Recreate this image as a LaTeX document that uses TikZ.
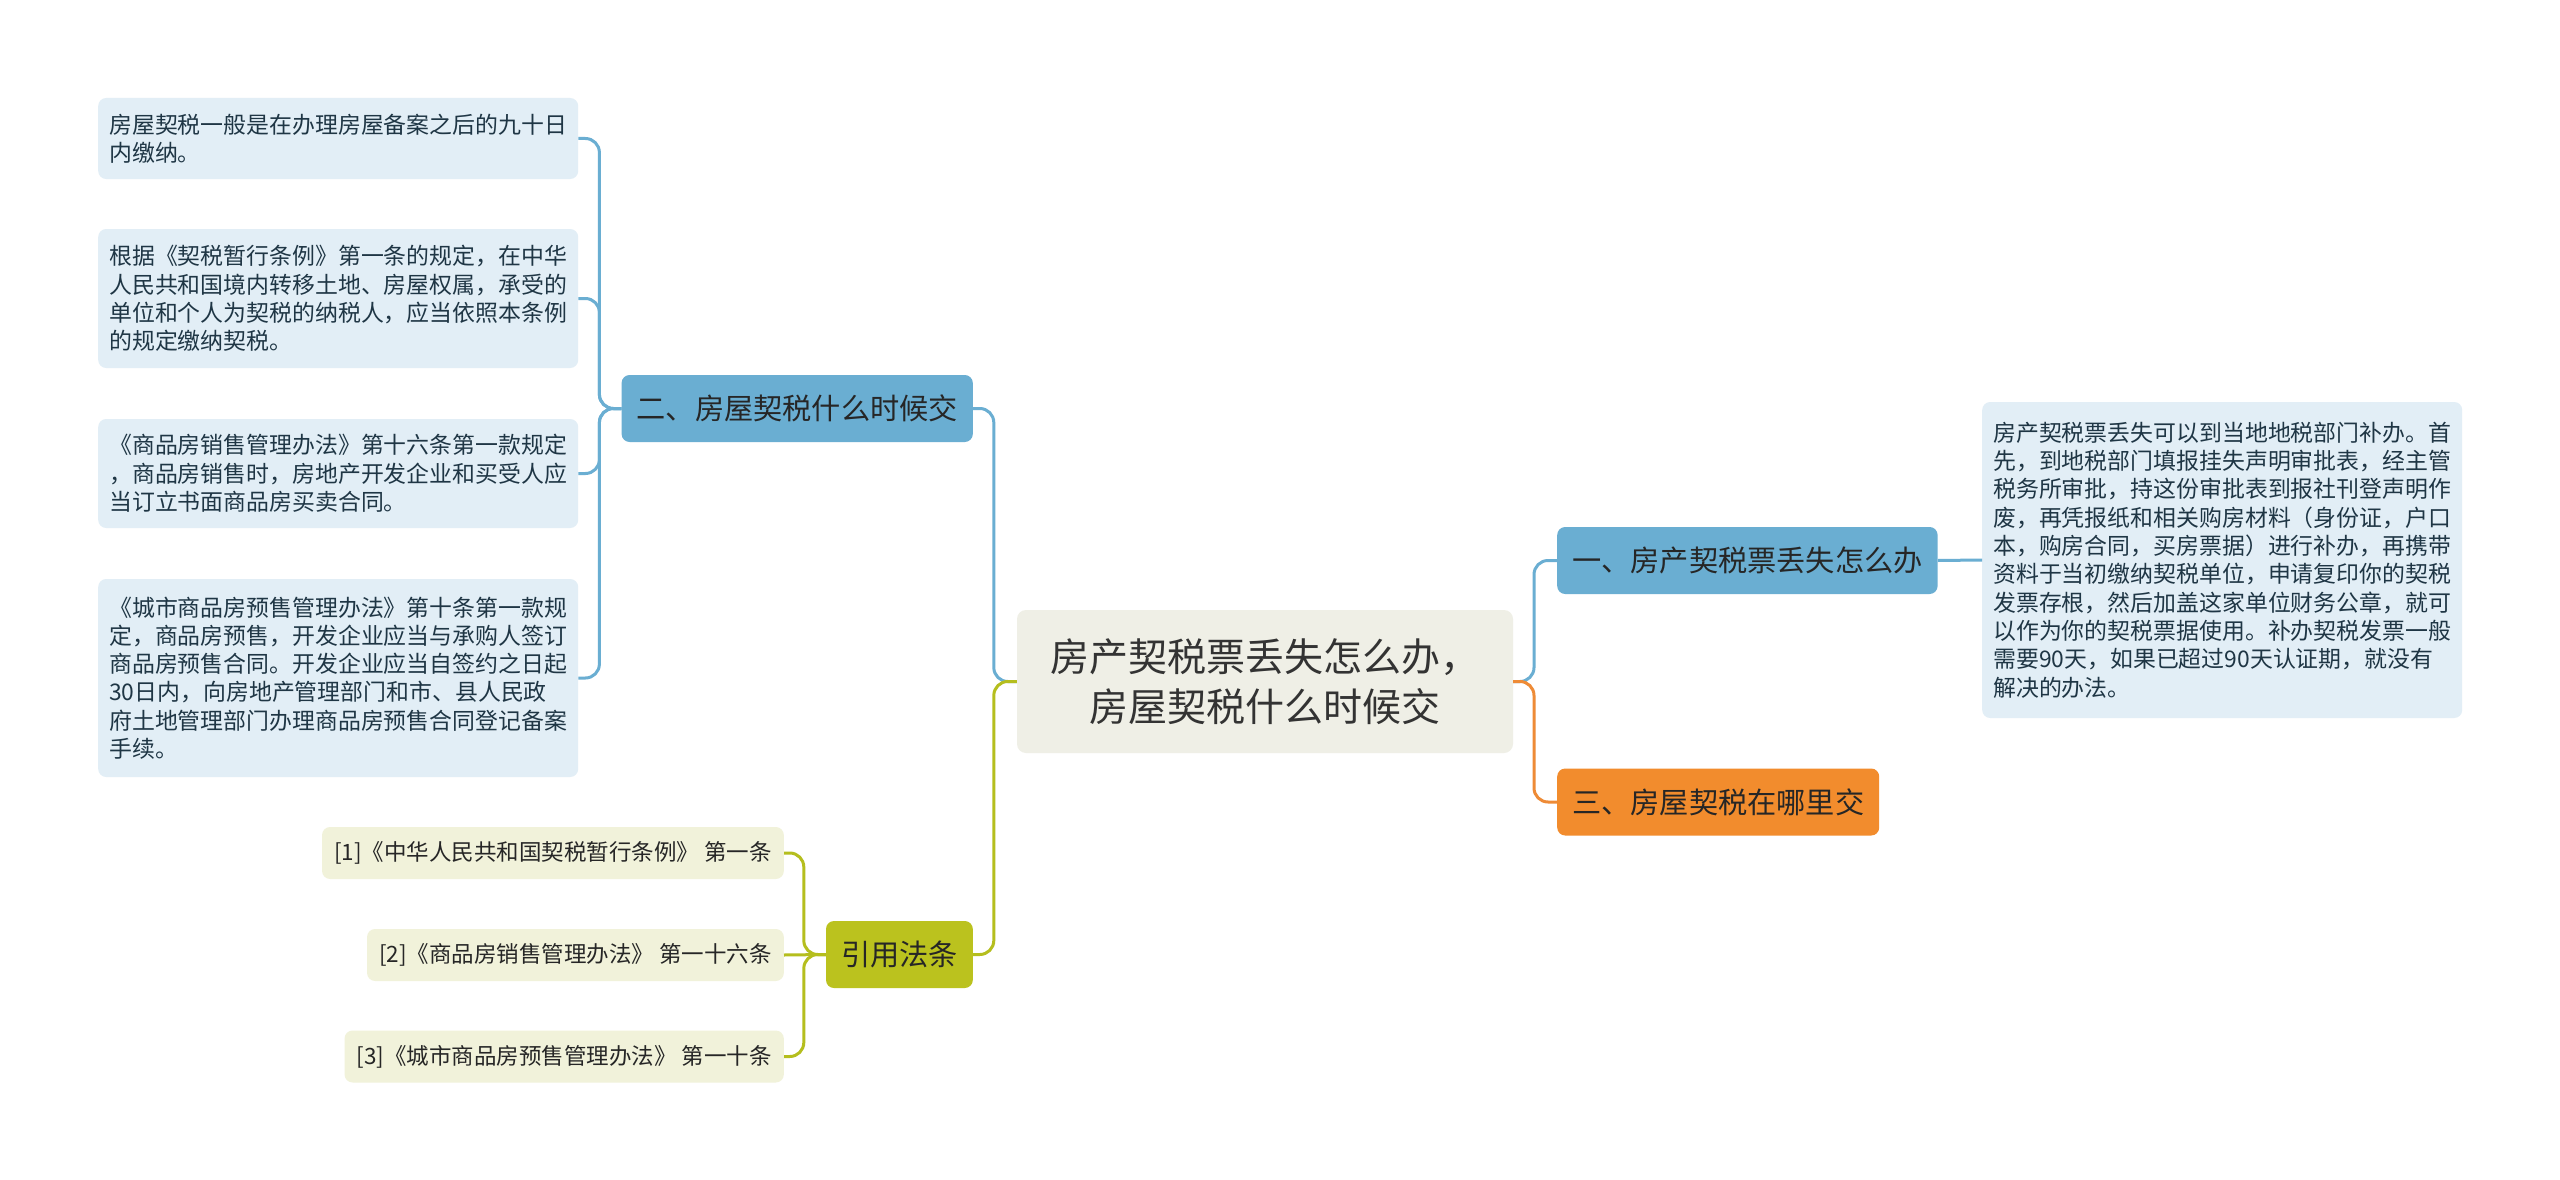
\documentclass[tikz,border=0pt]{standalone}
\usepackage{fontspec}
\newfontfamily\cjkfont{Noto Sans CJK SC}
\definecolor{topicfill}{HTML}{EFEFE6}
\definecolor{bluefill}{HTML}{6AAED2}
\definecolor{orangefill}{HTML}{F28C2D}
\definecolor{greenfill}{HTML}{BBC21E}
\definecolor{leaffill}{HTML}{E2EEF6}
\definecolor{leaftext}{HTML}{1F3645}
\definecolor{citefill}{HTML}{F1F2DA}
\definecolor{blueline}{HTML}{6AAED2}
\definecolor{greenline}{HTML}{B5BE1E}
\definecolor{orangeline}{HTML}{EE8B36}
\begin{document}
\begin{tikzpicture}[x=1pt, y=-1pt,
    topic/.style={rectangle, rounded corners=9pt, fill=topicfill, text=black!80,
      font=\cjkfont\fontsize{39}{50}\selectfont, align=center,
      minimum width=496pt, minimum height=143pt, inner sep=0pt},
    branch/.style={rectangle, rounded corners=8pt, text=black!85,
      font=\cjkfont\fontsize{29.2}{35}\selectfont,
      minimum height=67pt, inner xsep=15pt, inner ysep=0pt},
    leaf/.style={rectangle, rounded corners=8pt, fill=leaffill, text=leaftext,
      font=\cjkfont\fontsize{22.9}{28.3}\selectfont, align=left,
      text width=458pt, inner xsep=11pt, inner ysep=0pt, anchor=west},
    cite/.style={rectangle, rounded corners=8pt, fill=citefill, text=black!85,
      font=\cjkfont\fontsize{22.5}{27}\selectfont,
      minimum height=52pt, inner xsep=12pt, inner ysep=0pt, anchor=east},
    link/.style={line width=3pt, rounded corners=14pt}
  ]
    \fill[white] (0,0) rectangle (2560,1180);

    % 中心
    \node[topic] (root) at (1265, 681.5) {房产契税票丢失怎么办，\\房屋契税什么时候交};

    % 左侧分支
    \node[branch, fill=bluefill, anchor=east] (when) at (973, 408.5) {二、房屋契税什么时候交};
    \node[branch, fill=greenfill, anchor=east] (law) at (973, 954.5) {引用法条};

    \node[leaf, minimum height=81pt] (w1) at (98, 138.5)
      {房屋契税一般是在办理房屋备案之后的九十日\\内缴纳。};
    \node[leaf, minimum height=139pt] (w2) at (98, 298.5)
      {根据《契税暂行条例》第一条的规定，在中华\\人民共和国境内转移土地、房屋权属，承受的\\单位和个人为契税的纳税人，应当依照本条例\\的规定缴纳契税。};
    \node[leaf, minimum height=109pt] (w3) at (98, 473.5)
      {《商品房销售管理办法》第十六条第一款规定\\，商品房销售时，房地产开发企业和买受人应\\当订立书面商品房买卖合同。};
    \node[leaf, minimum height=198pt] (w4) at (98, 678)
      {《城市商品房预售管理办法》第十条第一款规\\定，商品房预售，开发企业应当与承购人签订\\商品房预售合同。开发企业应当自签约之日起\\30日内，向房地产管理部门和市、县人民政\\府土地管理部门办理商品房预售合同登记备案\\手续。};

    \node[cite] (l1) at (784, 853) {[1]《中华人民共和国契税暂行条例》 第一条};
    \node[cite] (l2) at (784, 955) {[2]《商品房销售管理办法》 第一十六条};
    \node[cite] (l3) at (784, 1056.5) {[3]《城市商品房预售管理办法》 第一十条};

    % 右侧分支
    \node[branch, fill=bluefill, anchor=west] (lost) at (1557, 560.5) {一、房产契税票丢失怎么办};
    \node[branch, fill=orangefill, anchor=west] (where) at (1557, 802) {三、房屋契税在哪里交};

    \node[leaf, minimum height=316pt] (l0) at (1982, 560)
      {房产契税票丢失可以到当地地税部门补办。首\\先，到地税部门填报挂失声明审批表，经主管\\税务所审批，持这份审批表到报社刊登声明作\\废，再凭报纸和相关购房材料（身份证，户口\\本，购房合同，买房票据）进行补办，再携带\\资料于当初缴纳契税单位，申请复印你的契税\\发票存根，然后加盖这家单位财务公章，就可\\以作为你的契税票据使用。补办契税发票一般\\需要90天，如果已超过90天认证期，就没有\\解决的办法。};

    % 连线
    \draw[link, blueline] (when.east) -| ([xshift=-23pt]root.west) -- (root.west);
    \draw[link, greenline] (law.east) -| ([xshift=-23pt]root.west) -- (root.west);
    \draw[link, blueline] (root.east) -| ([xshift=-23pt]lost.west) -- (lost.west);
    \draw[link, orangeline] (root.east) -| ([xshift=-23pt]where.west) -- (where.west);
    \draw[link, blueline] (lost.east) -- (l0.west);
    \foreach \n in {w1,w2,w3,w4}
      \draw[link, blueline] (\n.east) -| ([xshift=-22pt]when.west) -- (when.west);
    \draw[link, greenline] (l1.east) -| ([xshift=-22pt]law.west) -- (law.west);
    \draw[link, greenline] (l2.east) -- (law.west);
    \draw[link, greenline] (l3.east) -| ([xshift=-22pt]law.west) -- (law.west);
\end{tikzpicture}
\end{document}
